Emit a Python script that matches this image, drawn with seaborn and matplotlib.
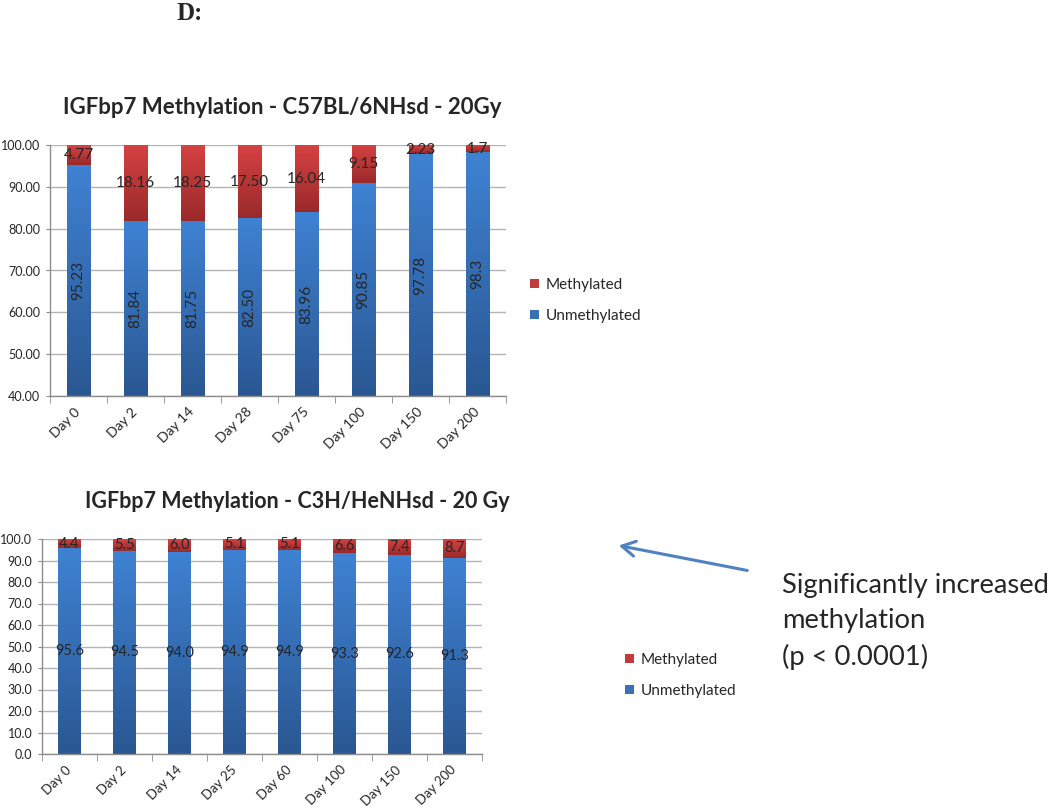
import numpy as np
import matplotlib
matplotlib.use("Agg")
import matplotlib.pyplot as plt
import seaborn as sns
from matplotlib.colors import LinearSegmentedColormap
from matplotlib.patches import Patch, FancyArrowPatch

# ---------------- data ----------------
top_days = ["Day 0", "Day 2", "Day 14", "Day 28", "Day 75", "Day 100", "Day 150", "Day 200"]
top_unmeth = [95.23, 81.84, 81.75, 82.50, 83.96, 90.85, 97.78, 98.3]
top_meth = [4.77, 18.16, 18.25, 17.50, 16.04, 9.15, 2.23, 1.7]
top_unmeth_labels = ["95.23", "81.84", "81.75", "82.50", "83.96", "90.85", "97.78", "98.3"]
top_meth_labels = ["4.77", "18.16", "18.25", "17.50", "16.04", "9.15", "2.23", "1.7"]

bot_days = ["Day 0", "Day 2", "Day 14", "Day 25", "Day 60", "Day 100", "Day 150", "Day 200"]
bot_unmeth = [95.6, 94.5, 94.0, 94.9, 94.9, 93.3, 92.6, 91.3]
bot_meth = [4.4, 5.5, 6.0, 5.1, 5.1, 6.6, 7.4, 8.7]

top_title = "IGFbp7 Methylation - C57BL/6NHsd - 20Gy"
bot_title = "IGFbp7 Methylation - C3H/HeNHsd - 20 Gy"
legend_labels = ["Methylated", "Unmethylated"]
note_text = "Significantly increased\nmethylation\n(p < 0.0001)"

# ---------------- style ----------------
sns.set_style("white")
plt.rcParams["font.family"] = ["Lato", "DejaVu Sans"]

W, H = 1050, 811
fig = plt.figure(figsize=(W / 100, H / 100), dpi=100)

BLUE_TOP, BLUE_BOT = "#3F82D3", "#2A5792"
RED_TOP, RED_BOT = "#D64242", "#9A2A2A"
GRID = "#B4B4B4"
SPINE = "#8C8C8C"


def px_axes(x0, y0, x1, y1):
    return fig.add_axes([x0 / W, 1 - y1 / H, (x1 - x0) / W, (y1 - y0) / H])


def gradient(ax, patches, top, bottom):
    cmap = LinearSegmentedColormap.from_list("g", [bottom, top])
    xl, yl = ax.get_xlim(), ax.get_ylim()
    grad = np.linspace(0, 1, 256).reshape(-1, 1)
    for p in patches:
        x0, w, yb, h = p.get_x(), p.get_width(), p.get_y(), p.get_height()
        lo, hi = max(yb, yl[0]), min(yb + h, yl[1])
        ax.imshow(grad, extent=[x0, x0 + w, lo, hi], origin="lower",
                  aspect="auto", cmap=cmap, zorder=2, interpolation="bilinear")
        p.set_visible(False)
    ax.set_xlim(xl)
    ax.set_ylim(yl)


def draw_chart(ax, days, unmeth, meth, ylim, fmt, ulabels, mlabels, rot_blue,
               lab_size, xlab_size):
    sns.barplot(x=days, y=unmeth, color=BLUE_TOP, width=0.41, ax=ax,
                saturation=1, zorder=2)
    n = len(ax.patches)
    sns.barplot(x=days, y=meth, bottom=unmeth, color=RED_TOP, width=0.41, ax=ax,
                saturation=1, zorder=2)
    blue = ax.patches[:n]
    red = ax.patches[n:]
    ax.set_xlim(-0.5, len(days) - 0.5)
    ax.set_ylim(*ylim)
    gradient(ax, blue, BLUE_TOP, BLUE_BOT)
    gradient(ax, red, RED_TOP, RED_BOT)

    ax.set_yticks(np.arange(ylim[0], ylim[1] + 0.1, 10))
    ax.yaxis.set_major_formatter(matplotlib.ticker.FormatStrFormatter(fmt))
    ax.grid(axis="y", color=GRID, linewidth=1, zorder=0)
    ax.set_axisbelow(True)
    for s in ["top", "right"]:
        ax.spines[s].set_visible(False)
    for s in ["left", "bottom"]:
        ax.spines[s].set_color(SPINE)
        ax.spines[s].set_linewidth(1)
    ax.tick_params(axis="y", length=3, color=SPINE, labelsize=9, pad=4, left=True)
    ax.set_xticks(range(len(days)))
    ax.set_xticklabels(days, rotation=45, ha="right", va="center",
                       rotation_mode="anchor", fontsize=xlab_size)
    ax.tick_params(axis="x", length=0, pad=10)
    ax.set_xticks(np.arange(-0.5, len(days), 1), minor=True)
    ax.tick_params(axis="x", which="minor", length=5, color=SPINE, bottom=True)

    for i in range(len(days)):
        lo = max(ylim[0], 0)
        ax.text(i, (lo + unmeth[i]) / 2, ulabels[i], rotation=rot_blue,
                ha="center", va="center", fontsize=lab_size, zorder=5)
        ax.text(i, unmeth[i] + meth[i] / 2, mlabels[i], ha="center",
                va="center", fontsize=lab_size, zorder=5)


# ---- top chart ----
ax1 = px_axes(50, 145, 506, 396)
draw_chart(ax1, top_days, top_unmeth, top_meth, (40, 100), "%.2f",
           top_unmeth_labels, top_meth_labels, 90, 11, 10)

# ---- bottom chart ----
ax2 = px_axes(42, 539, 482, 754)
draw_chart(ax2, bot_days, bot_unmeth, bot_meth, (0, 100), "%.1f",
           [f"{v:.1f}" for v in bot_unmeth], [f"{v:.1f}" for v in bot_meth], 0,
           10.5, 9.5)

# titles
fig.text(282 / W, 1 - 108 / H, top_title, ha="center", va="center",
         fontsize=16, fontweight="bold")
fig.text(297 / W, 1 - 501 / H, bot_title, ha="center", va="center",
         fontsize=15.5, fontweight="bold")

# legends
handles = [Patch(facecolor="#C43A38", edgecolor="none"),
           Patch(facecolor="#3A70B8", edgecolor="none")]
for (lx, ly) in [(530, 278), (625, 653)]:
    fig.legend(handles, legend_labels, loc="upper left",
               bbox_to_anchor=(lx / W, 1 - ly / H), frameon=False,
               fontsize=11, handlelength=0.6, handleheight=0.6,
               handletextpad=0.4, labelspacing=1.1, borderpad=0,
               borderaxespad=0)

# panel letter
fig.text(190 / W, 1 - 13 / H, "D:", ha="center", va="center", fontsize=18,
         fontweight="bold", family="Liberation Serif")

# annotation
fig.text(782 / W, 1 - 573 / H, note_text, ha="left", va="top", fontsize=19.7,
         linespacing=1.5)
fig.add_artist(FancyArrowPatch(
    (750 / W, 1 - 571 / H), (616 / W, 1 - 545 / H), transform=fig.transFigure,
    arrowstyle="->,head_length=0.8,head_width=0.45",
    color="#4F82C3", linewidth=2.2, mutation_scale=12))

fig.savefig("out.png", dpi=100)
